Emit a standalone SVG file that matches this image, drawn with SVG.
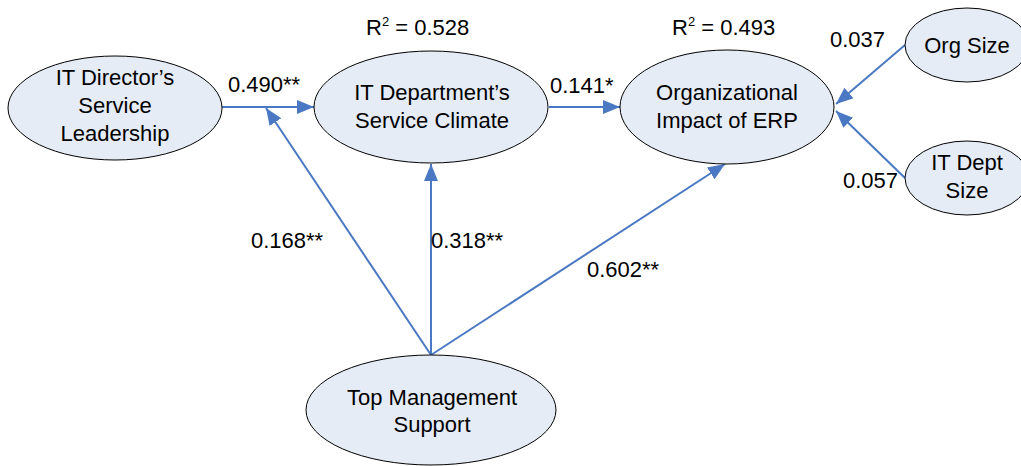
<svg xmlns="http://www.w3.org/2000/svg" width="1021" height="466" viewBox="0 0 1021 466">
<style>
.node{fill:#E6ECF6;stroke:#000;stroke-width:1}
.t{font-family:"Liberation Sans",Arial,sans-serif;font-size:22px;fill:#000;text-anchor:middle}
.l{font-family:"Liberation Sans",Arial,sans-serif;font-size:22px;fill:#000}
.c{stroke:#4A78C2;stroke-width:2;fill:none;marker-end:url(#ah)}
</style>
<defs>
<marker id="ah" markerUnits="userSpaceOnUse" markerWidth="18" markerHeight="16" refX="17" refY="7" orient="auto">
<path d="M0,0 L17,7 L0,14 z" fill="#4A78C2"/>
</marker>
</defs>
<g id="connectors">
<line class="c" x1="222" y1="107" x2="314" y2="107"/>
<line class="c" x1="549" y1="107" x2="620" y2="107"/>
<line class="c" x1="431" y1="355" x2="431" y2="164"/>
<line class="c" x1="431" y1="355" x2="266" y2="108"/>
<line class="c" x1="431" y1="355" x2="725" y2="164"/>
<line class="c" x1="905" y1="45" x2="836" y2="104"/>
<line class="c" x1="905" y1="178" x2="836" y2="111"/>
</g>
<g id="labels">
<text class="l" x="228" y="92">0.490**</text>
<text class="l" x="550" y="93">0.141*</text>
<text class="l" x="830" y="47">0.037</text>
<text class="l" x="843" y="188">0.057</text>
<text class="l" x="251" y="248">0.168**</text>
<text class="l" x="431" y="248">0.318**</text>
<text class="l" x="587" y="277">0.602**</text>
<text class="l" x="366" y="35">R<tspan font-size="13" dy="-9">2</tspan><tspan dy="9"> = 0.528</tspan></text>
<text class="l" x="672" y="35">R<tspan font-size="13" dy="-9">2</tspan><tspan dy="9"> = 0.493</tspan></text>
</g>
<g id="n-director">
<ellipse class="node" cx="115" cy="108" rx="107" ry="52"/>
<text class="t" x="115" y="85">IT Director’s</text>
<text class="t" x="115" y="113">Service</text>
<text class="t" x="115" y="141">Leadership</text>
</g>
<g id="n-climate">
<ellipse class="node" cx="431" cy="107" rx="117" ry="56"/>
<text class="t" x="432" y="100">IT Department’s</text>
<text class="t" x="432" y="128">Service Climate</text>
</g>
<g id="n-impact">
<ellipse class="node" cx="727" cy="107" rx="107" ry="57"/>
<text class="t" x="727" y="100">Organizational</text>
<text class="t" x="727" y="128">Impact of ERP</text>
</g>
<g id="n-orgsize">
<ellipse class="node" cx="967" cy="45" rx="62" ry="37"/>
<text class="t" x="967" y="53">Org Size</text>
</g>
<g id="n-itsize">
<ellipse class="node" cx="967" cy="178" rx="62" ry="37"/>
<text class="t" x="967" y="170">IT Dept</text>
<text class="t" x="967" y="198">Size</text>
</g>
<g id="n-top">
<ellipse class="node" cx="431" cy="410" rx="125" ry="55"/>
<text class="t" x="432" y="405">Top Management</text>
<text class="t" x="432" y="432">Support</text>
</g>
</svg>
